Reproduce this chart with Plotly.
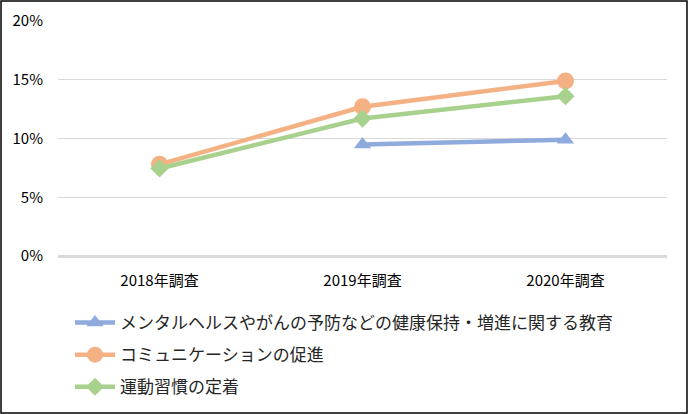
import plotly.graph_objects as go

categories = ["2018年調査", "2019年調査", "2020年調査"]
series_names = [
    "メンタルヘルスやがんの予防などの健康保持・増進に関する教育",
    "コミュニケーションの促進",
    "運動習慣の定着",
]
mental_health = [None, 9.5, 9.9]
communication = [7.8, 12.7, 14.9]
exercise = [7.45, 11.7, 13.6]
y_ticks = [0, 5, 10, 15, 20]
y_tick_labels = ["0%", "5%", "10%", "15%", "20%"]

colors = ["#8FAADC", "#F4B183", "#A9D18E"]
symbols = ["triangle-up", "circle", "diamond"]
msizes = [15, 17, 14]
values = [mental_health, communication, exercise]

W, H = 688, 414
ML, MR, MT, MB = 58, 21, 21, 158
font = "Noto Sans CJK JP"

fig = go.Figure()
for i, (name, vals) in enumerate(zip(series_names, values)):
    fig.add_trace(go.Scatter(
        x=categories, y=vals, name=name, mode="lines+markers",
        line=dict(color=colors[i], width=4.5),
        marker=dict(symbol=symbols[i], size=msizes[i], color=colors[i]),
        legendgroup=f"g{i}", connectgaps=False,
    ))

pw = W - ML - MR
ph = H - MT - MB
fig.update_layout(
    width=W, height=H,
    margin=dict(l=ML, r=MR, t=MT, b=MB, autoexpand=False),
    paper_bgcolor="white", plot_bgcolor="white",
    font=dict(family=font, color="#000000", size=15),
    showlegend=True,
    legend=dict(
        xref="container", yref="container",
        x=70 / W, xanchor="left",
        y=1 - 305 / H, yanchor="top",
        font=dict(size=17, color="#262626"),
        tracegroupgap=7, itemwidth=40,
        bgcolor="rgba(0,0,0,0)",
    ),
    xaxis=dict(
        type="category", range=[-0.5, 2.5], showgrid=False, showline=False,
        ticks="", tickfont=dict(size=15), zeroline=False,
        ticklabelstandoff=14,
    ),
    yaxis=dict(
        range=[0, 20], tickvals=y_ticks, ticktext=y_tick_labels,
        showgrid=True, gridcolor="#D9D9D9", gridwidth=1.2,
        zeroline=True, zerolinecolor="#D9D9D9", zerolinewidth=2.5,
        showline=False, ticks="", tickfont=dict(size=15),
        ticklabelstandoff=14,
    ),
    shapes=[dict(
        type="rect", xref="paper", yref="paper",
        x0=-(ML - 1) / pw, x1=1 + (MR - 1) / pw,
        y0=-(MB - 1) / ph, y1=1 + (MT - 1) / ph,
        line=dict(color="black", width=1.5), layer="above",
    )],
)

fig.write_html(
    "out.html",
    config={"displayModeBar": False},
    post_script="document.body.style.margin='0';document.body.style.overflow='hidden';",
)
